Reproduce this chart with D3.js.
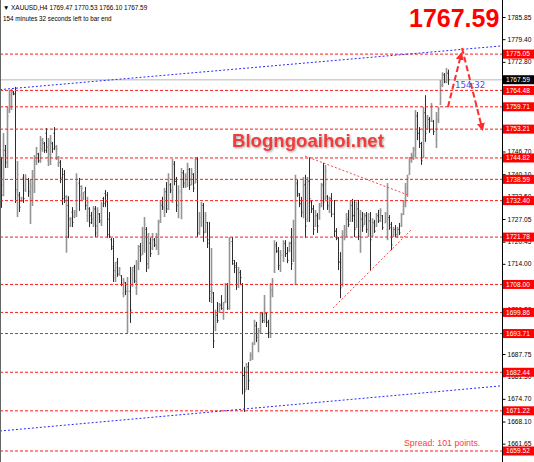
<!DOCTYPE html>
<html><head><meta charset="utf-8">
<script src="https://cdn.jsdelivr.net/npm/d3@7"></script>
<style>body{margin:0;background:#fff}svg{display:block}</style>
</head><body>
<svg id="c" width="534" height="462"></svg>
<script>
// ---- DATA ----
const opens=[1741.3,1737.0,1747.0,1743.5,1758.5,1760.0,1764.0,1763.5,1735.0,1734.0,1732.2,1739.0,1735.5,1738.5,1734.5,1733.0,1739.5,1744.0,1746.0,1744.0,
1747.5,1749.0,1752.0,1744.0,1746.0,1749.0,1752.0,1745.0,1743.0,1743.5,1739.0,1740.0,1722.0,1731.0,1725.0,1729.0,1727.8,1728.5,1737.5,1734.0,
1733.0,1735.0,1728.0,1730.0,1728.0,1726.0,1730.0,1723.0,1728.5,1726.0,1733.0,1734.5,1734.0,1727.0,1721.0,1719.0,1710.0,1714.5,1711.0,1710.5,
1705.5,1708.5,1700.0,1706.0,1708.0,1713.0,1707.0,1713.0,1719.0,1717.0,1722.0,1724.0,1714.0,1720.0,1718.5,1721.0,1719.5,1719.0,1726.5,1731.0,
1730.0,1735.0,1731.0,1737.0,1735.0,1743.0,1738.0,1731.0,1735.0,1740.5,1737.0,1739.5,1741.5,1737.0,1740.0,1737.5,1744.5,1723.0,1726.0,1731.0,
1723.5,1726.0,1721.0,1704.0,1705.5,1695.5,1699.0,1700.0,1702.0,1701.0,1703.0,1708.0,1701.5,1720.5,1714.0,1713.5,1708.0,1711.5,1708.0,1681.5,
1677.5,1684.0,1686.0,1687.0,1691.0,1696.0,1693.0,1694.5,1699.5,1697.5,1699.5,1697.0,1694.0,1706.0,1712.0,1719.5,1717.5,1713.0,1716.5,1720.0,
1717.0,1718.0,1720.0,1715.0,1720.0,1737.5,1734.0,1731.5,1729.0,1737.0,1727.0,1738.0,1732.0,1730.0,1725.0,1728.0,1727.5,1731.0,1737.0,1733.0,
1733.5,1730.5,1733.0,1728.5,1723.5,1721.5,1714.5,1708.0,1722.0,1724.0,1727.0,1726.5,1731.0,1728.0,1724.5,1730.0,1722.0,1727.0,1725.5,1728.0,
1724.0,1726.5,1722.0,1726.0,1725.0,1728.0,1726.5,1728.0,1726.0,1724.0,1727.5,1725.5,1722.0,1724.0,1722.0,1724.0,1725.0,1728.5,1731.0,1735.0,
1740.0,1744.0,1745.5,1747.0,1757.0,1752.0,1749.0,1745.0,1758.0,1753.5,1756.0,1755.5,1755.5,1750.0,1756.0,1760.5,1766.0,1769.0,1767.0,1769.47];
const highs=[1745.1,1752.1,1748.6,1759.7,1764.6,1764.9,1764.3,1765.5,1743.9,1734.9,1733.5,1740.1,1740.1,1739.0,1738.4,1741.3,1745.7,1748.0,1746.3,1751.2,
1750.6,1749.5,1753.5,1750.6,1751.5,1749.5,1753.8,1748.6,1745.4,1744.2,1741.9,1741.3,1734.0,1733.7,1727.6,1730.5,1729.7,1740.4,1739.0,1736.9,
1734.9,1736.4,1733.5,1730.5,1729.1,1730.8,1730.8,1730.5,1728.8,1732.0,1733.5,1735.5,1734.9,1729.1,1721.5,1721.5,1714.5,1715.7,1713.1,1710.7,
1709.9,1708.7,1710.2,1713.1,1713.1,1713.7,1715.1,1719.5,1720.1,1724.7,1727.6,1724.7,1723.0,1721.5,1723.0,1721.5,1723.0,1726.8,1732.6,1733.5,
1736.1,1737.8,1740.4,1737.5,1744.5,1743.9,1739.3,1736.9,1741.9,1741.3,1740.4,1743.4,1741.9,1741.9,1740.4,1745.1,1745.1,1729.1,1732.0,1731.7,
1729.1,1726.2,1726.2,1718.6,1705.8,1700.6,1702.9,1702.6,1704.9,1702.9,1708.4,1708.4,1721.8,1721.8,1715.1,1714.5,1713.1,1712.2,1708.4,1684.0,
1685.1,1685.4,1688.3,1691.2,1697.7,1697.1,1695.3,1700.0,1700.0,1704.9,1699.7,1697.7,1708.4,1709.9,1720.9,1720.4,1718.9,1718.0,1720.9,1720.9,
1718.9,1720.4,1724.4,1726.8,1739.9,1738.4,1734.6,1733.5,1739.3,1739.9,1739.3,1745.1,1732.6,1731.1,1729.7,1728.8,1731.7,1737.5,1743.4,1742.8,
1734.0,1733.5,1734.6,1732.6,1724.4,1721.8,1717.4,1723.8,1725.3,1728.8,1729.7,1732.6,1732.9,1732.6,1732.0,1732.6,1729.7,1729.1,1728.8,1729.1,
1728.8,1729.1,1727.3,1726.8,1728.8,1729.7,1730.2,1728.2,1729.1,1737.5,1728.2,1726.2,1724.7,1725.3,1724.7,1725.9,1728.8,1732.6,1737.5,1739.9,
1745.1,1746.3,1748.0,1758.8,1758.2,1753.8,1749.5,1759.7,1763.1,1757.3,1756.7,1760.8,1755.9,1758.2,1759.7,1767.5,1769.8,1769.5,1771.0,1770.53];
const lows=[1730.3,1733.7,1741.9,1741.9,1757.9,1758.8,1763.1,1731.7,1727.6,1729.1,1732.0,1731.7,1734.9,1733.5,1725.6,1730.8,1734.6,1742.8,1743.4,1743.4,
1746.6,1746.3,1746.3,1742.5,1742.8,1746.3,1747.1,1744.2,1742.2,1737.5,1731.1,1731.7,1717.2,1721.5,1724.7,1724.7,1727.3,1727.6,1729.4,1732.3,
1732.6,1729.7,1726.2,1724.7,1725.6,1724.7,1721.8,1721.8,1725.9,1725.0,1730.5,1730.5,1721.5,1721.5,1718.0,1708.7,1708.7,1710.2,1710.5,1707.5,
1704.3,1704.9,1693.9,1696.8,1707.3,1708.4,1704.9,1712.2,1714.5,1716.6,1717.2,1711.6,1712.5,1716.0,1718.0,1718.9,1718.0,1716.6,1725.9,1729.7,
1727.6,1728.8,1729.7,1734.6,1731.7,1736.9,1729.1,1727.3,1727.0,1736.1,1736.1,1736.4,1735.5,1736.9,1734.9,1737.5,1721.8,1722.4,1724.7,1720.4,
1723.0,1718.6,1702.9,1702.6,1689.5,1694.4,1696.8,1699.7,1700.6,1697.7,1702.6,1700.6,1700.6,1713.7,1711.3,1706.4,1707.0,1707.8,1676.0,1670.9,
1677.3,1677.3,1685.7,1686.0,1690.4,1691.2,1688.3,1693.9,1696.8,1696.8,1695.6,1692.4,1692.4,1704.3,1711.3,1717.2,1712.2,1711.6,1714.5,1716.0,
1714.2,1717.4,1712.2,1714.5,1707.8,1733.5,1730.5,1727.6,1727.3,1721.5,1726.2,1726.2,1728.8,1722.4,1724.7,1723.0,1726.8,1730.5,1729.7,1732.6,
1729.7,1728.8,1727.6,1721.8,1720.9,1712.2,1704.0,1707.3,1720.9,1721.8,1724.7,1726.2,1726.2,1721.8,1724.4,1720.9,1717.2,1723.3,1725.3,1723.0,
1721.8,1712.2,1721.8,1723.0,1724.7,1725.9,1726.2,1723.9,1725.9,1720.9,1723.9,1718.0,1721.8,1721.8,1721.5,1722.4,1724.7,1728.2,1730.5,1733.5,
1739.9,1743.4,1744.2,1745.1,1750.0,1747.7,1742.8,1744.8,1749.5,1753.0,1752.1,1755.3,1751.5,1747.7,1755.0,1760.2,1765.5,1766.6,1766.6,1766.10];
const closes=[1734.0,1748.6,1743.5,1757.0,1763.0,1763.5,1763.4,1735.6,1740.0,1730.5,1733.2,1733.0,1739.0,1735.0,1736.5,1740.0,1744.0,1746.0,1744.0,1750.0,
1749.5,1747.0,1748.0,1749.0,1749.5,1747.5,1748.0,1747.5,1745.0,1738.5,1733.0,1733.5,1728.0,1727.0,1727.0,1726.0,1729.2,1737.0,1736.5,1736.0,
1734.5,1731.0,1732.0,1726.0,1727.0,1730.0,1725.0,1729.5,1726.5,1731.0,1731.5,1732.0,1722.5,1722.0,1718.5,1712.0,1713.0,1711.0,1712.5,1708.0,
1709.0,1706.0,1706.0,1700.5,1712.0,1709.0,1714.0,1718.0,1716.5,1723.0,1725.5,1714.0,1720.0,1717.0,1722.0,1719.5,1722.5,1726.0,1731.5,1730.5,
1735.0,1730.0,1739.0,1735.5,1743.5,1738.0,1731.0,1735.0,1740.5,1737.5,1739.5,1742.5,1737.0,1740.5,1736.0,1744.5,1723.0,1727.5,1731.0,1723.0,
1728.0,1720.0,1706.0,1706.0,1691.5,1699.0,1697.5,1702.0,1701.0,1702.5,1708.0,1701.0,1720.0,1715.0,1713.0,1708.0,1711.5,1710.0,1681.5,1677.0,
1684.0,1680.0,1687.5,1690.5,1696.0,1692.5,1694.5,1699.0,1697.5,1701.0,1697.0,1694.0,1706.5,1709.0,1719.0,1717.8,1713.5,1716.5,1719.5,1717.0,
1715.0,1720.0,1714.0,1724.0,1737.0,1734.5,1731.5,1729.0,1737.0,1725.0,1738.0,1733.0,1730.0,1724.0,1728.0,1725.0,1730.5,1736.5,1732.0,1741.0,
1731.0,1732.5,1728.5,1723.5,1721.5,1714.5,1707.0,1722.0,1724.0,1727.5,1725.5,1731.0,1728.0,1724.0,1730.0,1722.0,1727.0,1725.0,1728.0,1724.0,
1726.5,1721.0,1726.0,1723.5,1728.0,1726.5,1729.5,1724.5,1728.5,1727.0,1724.5,1719.5,1724.0,1722.5,1724.0,1723.0,1728.0,1732.0,1736.0,1739.0,
1744.5,1745.5,1747.5,1757.0,1752.0,1749.0,1744.0,1758.0,1752.0,1756.5,1753.0,1760.0,1752.5,1756.0,1759.0,1766.0,1769.0,1767.0,1769.5,1767.59];

const levels=[1775.05,1764.48,1759.71,1753.21,1744.82,1738.59,1732.40,1721.78,1708.00,1699.86,1693.71,1682.44,1671.22,1659.52];
const tickValues=[1785.85,1779.40,1772.80,1746.70,1740.10,1733.50,1727.05,1720.45,1714.00,1700.80,1687.75,1681.30,1674.70,1668.10,1661.65];
const lastPrice=1767.59;
const upperTrend=[[-0.5,1764.72],[245.6,1777.44]];
const lowerTrend=[[-0.5,1665.34],[245.6,1678.50]];
const triUpper=[[149.0,1745.39],[199.5,1734.04]];
const triLower=[[162.8,1701.14],[201.5,1724.14]];
const arrowUp=[[219.1,1759.65],[225.5,1774.79]];
const arrowDown=[[226.0,1776.83],[235.8,1753.54]];
const titleLine1="▼ XAUUSD,H4  1769.47 1770.53 1766.10 1767.59";
const titleLine2="154 minutes 32 seconds left to bar end";
const countdown="154:32";
const watermark="Blogngoaihoi.net";
const spreadText="Spread: 101 points.";

// ---- CHART ----
const svg=d3.select("#c");
const plotRight=502;
const x=d3.scaleLinear().domain([-0.5,245.6]).range([0,plotRight]);
const y=d3.scaleLinear().domain([1785.85,1659.52]).range([17,451]);
const font="'Liberation Sans', Arial, sans-serif";

const defs=svg.append("defs");
defs.append("marker").attr("id","ah").attr("viewBox","0 0 10 10").attr("refX",6).attr("refY",5)
  .attr("markerWidth",4).attr("markerHeight",4).attr("orient","auto")
  .append("path").attr("d","M0,0 L10,5 L0,10 z").attr("fill","#ff2a2a");
const f=defs.append("filter").attr("id","sh").attr("x","-10%").attr("y","-30%").attr("width","120%").attr("height","160%");
f.append("feDropShadow").attr("dx",1).attr("dy",1).attr("stdDeviation",1.2).attr("flood-color","#777").attr("flood-opacity",0.7);

svg.append("rect").attr("width",534).attr("height",462).attr("fill","#fff");

const line=d3.line().x(d=>x(d[0])).y(d=>y(d[1]));

// current price line
svg.append("line").attr("x1",0).attr("x2",plotRight).attr("y1",y(lastPrice)).attr("y2",y(lastPrice))
  .attr("stroke","#cfcfcf").attr("stroke-width",1.5);

// bars
const bars=svg.append("g");
d3.range(opens.length).forEach(i=>{
  const xi=Math.round(x(i))+0.5;
  const up=closes[i]>=opens[i];
  bars.append("path")
    .attr("d",`M${xi},${y(highs[i])}V${y(lows[i])}M${xi-1},${y(opens[i])}H${xi}M${xi},${y(closes[i])}H${xi+1}`)
    .attr("stroke",up?"#959595":"#2e2e2e").attr("stroke-width",up?1.6:1).attr("fill","none");
});

// red horizontal levels
svg.append("g").selectAll("line").data(levels).join("line")
  .attr("x1",0).attr("x2",plotRight).attr("y1",d=>y(d)).attr("y2",d=>y(d))
  .attr("stroke","#ff1a1a").attr("stroke-width",1).attr("stroke-dasharray","3,2");

// blue trendlines
[upperTrend,lowerTrend].forEach(t=>svg.append("path").attr("d",line(t)).attr("fill","none")
  .attr("stroke","#2a2aff").attr("stroke-width",1).attr("stroke-dasharray","2,2"));

// triangle
[triUpper,triLower].forEach(t=>svg.append("path").attr("d",line(t)).attr("fill","none")
  .attr("stroke","#f04a4a").attr("stroke-width",1).attr("stroke-dasharray","2,2"));

// arrows
[arrowUp,arrowDown].forEach(t=>svg.append("path").attr("d",line(t)).attr("fill","none")
  .attr("stroke","#ff2a2a").attr("stroke-width",2).attr("stroke-dasharray","6,3")
  .attr("marker-end","url(#ah)"));

// texts
svg.append("text").attr("x",3).attr("y",10).attr("font-family",font).attr("font-size",6.4).attr("fill","#000").text(titleLine1);
svg.append("text").attr("x",3).attr("y",21).attr("font-family",font).attr("font-size",6.3).attr("fill","#000").text(titleLine2);
svg.append("text").attr("x",232).attr("y",147).attr("font-family",font).attr("font-size",18.6).attr("font-weight","bold")
  .attr("fill","#f23a3a").attr("filter","url(#sh)").text(watermark);
svg.append("text").attr("x",455).attr("y",88).attr("font-family","'DejaVu Sans', sans-serif").attr("font-size",8.6)
  .attr("fill","#4a4aff").text(countdown);
svg.append("text").attr("x",404).attr("y",446).attr("font-family",font).attr("font-size",8.8)
  .attr("fill","#ff3c3c").text(spreadText);

// axis
svg.append("line").attr("x1",0.5).attr("x2",0.5).attr("y1",0).attr("y2",462).attr("stroke","#666").attr("stroke-width",1);
svg.append("line").attr("x1",plotRight+0.5).attr("x2",plotRight+0.5).attr("y1",0).attr("y2",462).attr("stroke","#000").attr("stroke-width",1);
const ax=svg.append("g").attr("transform",`translate(${plotRight+0.5},0)`)
  .call(d3.axisRight(y).tickValues(tickValues).tickSize(3).tickPadding(2).tickFormat(d3.format(".2f")));
ax.select(".domain").remove();
ax.selectAll("text").attr("font-family",font).attr("font-size",6.6).attr("fill","#000");

// level labels
const lab=svg.append("g").selectAll("g").data(levels).join("g").attr("transform",d=>`translate(503,${y(d)})`);
lab.append("rect").attr("x",0).attr("y",-4.5).attr("width",31).attr("height",9).attr("fill","#ff0000");
lab.append("text").attr("x",3).attr("y",0).attr("dy","0.35em").attr("font-family",font).attr("font-size",6.6)
  .attr("fill","#fff").text(d=>d3.format(".2f")(d));
const cur=svg.append("g").attr("transform",`translate(503,${y(lastPrice)})`);
cur.append("rect").attr("y",-4.5).attr("width",31).attr("height",9).attr("fill","#000");
cur.append("text").attr("x",3).attr("dy","0.35em").attr("font-family",font).attr("font-size",6.6).attr("fill","#fff").text(d3.format(".2f")(lastPrice));

// big price
svg.append("text").attr("x",409).attr("y",27).attr("font-family",font).attr("font-size",25).attr("font-weight","bold")
  .attr("fill","#ff0000").text(d3.format(".2f")(lastPrice));
</script>
</body></html>
